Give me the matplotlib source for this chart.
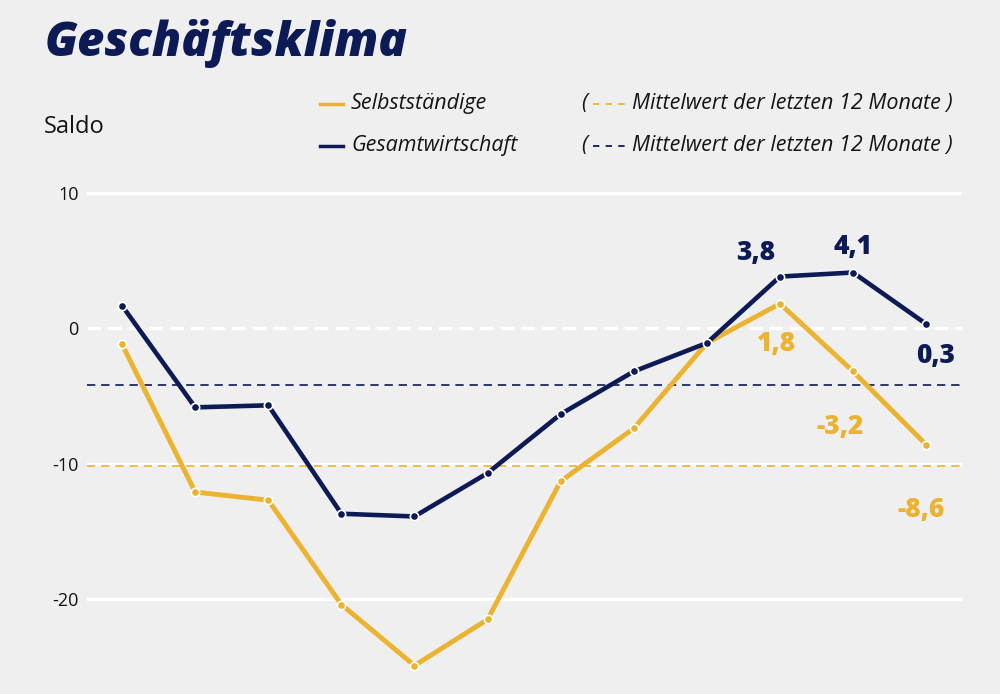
import matplotlib
matplotlib.use("Agg")
import matplotlib.pyplot as plt
from matplotlib.lines import Line2D

# ---- data ----
months = list(range(12))
selbststaendige = [-1.2, -12.1, -12.7, -20.4, -24.9, -21.5, -11.3, -7.4, -1.1, 1.8, -3.2, -8.6]
gesamtwirtschaft = [1.65, -5.85, -5.7, -13.7, -13.9, -10.7, -6.35, -3.2, -1.1, 3.8, 4.1, 0.3]
mean_selbst = -10.2
mean_gesamt = -4.2
yticks = [10, 0, -10, -20]
ytick_labels = ["10", "0", "-10", "-20"]
label_idx = [9, 10, 11]
label_selbst = ["1,8", "-3,2", "-8,6"]
label_gesamt = ["3,8", "4,1", "0,3"]

BG = "#efefef"
NAVY = "#0c1a55"
YELLOW = "#ebb32f"
TXT = "#141414"
FONT = "Open Sans"

fig = plt.figure(figsize=(10, 6.94), dpi=100, facecolor=BG)
ax = fig.add_axes([0.087, 0.0, 0.875, 515 / 694])
ax.set_facecolor(BG)
ax.set_xlim(-0.48, 11.49)
ax.set_ylim(-27, 11)
for s in ax.spines.values():
    s.set_visible(False)
ax.set_xticks([])
ax.set_yticks(yticks)
ax.set_yticklabels(ytick_labels, fontsize=13, color=TXT, family=FONT)
ax.tick_params(axis="y", length=0, pad=6)

for v in yticks:
    if v == 0:
        ax.axhline(v, color="white", lw=2.4, ls=(0, (4, 2.2)), zorder=1)
    else:
        ax.axhline(v, color="white", lw=2.4, zorder=1)

ax.axhline(mean_selbst, color=YELLOW, lw=1.2, ls=(0, (5, 3.5)), zorder=2)
ax.axhline(mean_gesamt, color=NAVY, lw=1.2, ls=(0, (5, 3.5)), zorder=2)

ax.plot(months, selbststaendige, color=YELLOW, lw=3.5, marker="o", ms=6,
        mfc=YELLOW, mec="white", mew=1.2, zorder=3, solid_capstyle="butt")
ax.plot(months, gesamtwirtschaft, color=NAVY, lw=3.3, marker="o", ms=6,
        mfc=NAVY, mec="white", mew=1.2, zorder=4, solid_capstyle="butt")

# value labels
offs_g = [(-24, 24), (0, 26), (9, -32)]
offs_s = [(-3, -40), (-13, -56), (-5, -65)]
for k, i in enumerate(label_idx):
    ax.annotate(label_gesamt[k], (months[i], gesamtwirtschaft[i]), xytext=offs_g[k],
                textcoords="offset pixels", ha="center", va="center",
                fontsize=19, fontweight="heavy", color=NAVY, family=FONT)
    ax.annotate(label_selbst[k], (months[i], selbststaendige[i]), xytext=offs_s[k],
                textcoords="offset pixels", ha="center", va="center",
                fontsize=19, fontweight="heavy", color=YELLOW, family=FONT)

# title & axis label
fig.text(0.045, 1 - 44 / 694, "Geschäftsklima", fontsize=34, fontweight="heavy",
         style="italic", color=NAVY, family=FONT, va="center", ha="left")
fig.text(0.044, 1 - 127 / 694, "Saldo", fontsize=17, color=TXT, family=FONT,
         va="center", ha="left")

# legend
def H(y):
    return 1 - y / 694

for y, col, name in [(104, YELLOW, "Selbstständige"), (146, NAVY, "Gesamtwirtschaft")]:
    fig.add_artist(Line2D([0.320, 0.343], [H(y), H(y)], color=col, lw=2.5,
                          transform=fig.transFigure))
    fig.text(0.351, H(y), name, fontsize=15.5, style="italic", color=TXT,
             family=FONT, va="center", ha="left")
    fig.text(0.581, H(y), "(", fontsize=15.5, style="italic", color=TXT,
             family=FONT, va="center", ha="left")
    fig.add_artist(Line2D([0.593, 0.625], [H(y), H(y)], color=col, lw=1.3,
                          ls=(0, (3.5, 3.5)), transform=fig.transFigure))
    fig.text(0.632, H(y), "Mittelwert der letzten 12 Monate )", fontsize=15.5,
             style="italic", color=TXT, family=FONT, va="center", ha="left")

fig.savefig("out.png", dpi=100, facecolor=BG)
